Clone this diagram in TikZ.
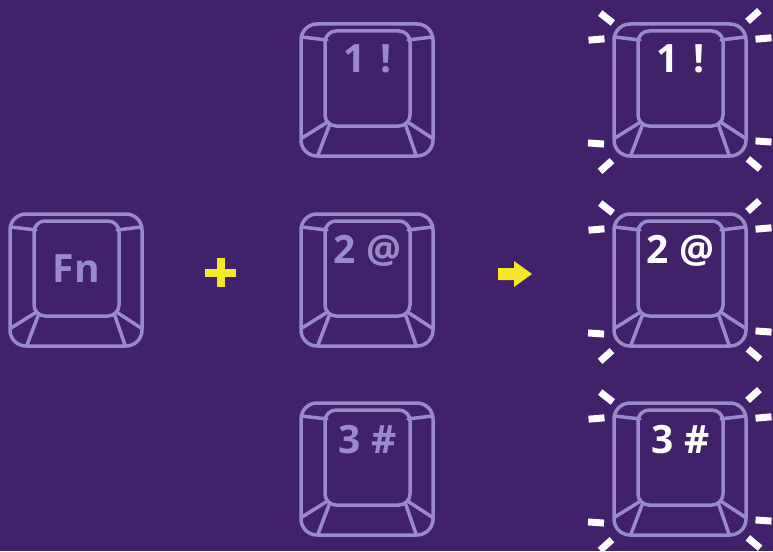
\documentclass[tikz,border=0pt]{standalone}
\usepackage{fontspec}
\setmainfont{Open Sans}
\definecolor{bgc}{HTML}{42216B}
\definecolor{keyc}{HTML}{9A8AC8}
\definecolor{yelc}{HTML}{F4E829}
\tikzset{
  keyline/.style={draw=keyc, line width=3.5pt, line join=round, line cap=round},
  keytext/.style={font=\fontsize{39}{39}\selectfont\bfseries, anchor=base, inner sep=0pt},
  spark/.style={fill=white, draw=none, minimum width=16pt, minimum height=7pt, inner sep=0pt, rectangle},
}
\newcommand\keycap[6]{% name, X, Y, text, colour, baseline
  \begin{scope}[shift={(#2,#3)}]
    \draw[keyline, rounded corners=16pt] (0,0) rectangle (132,132);
    \draw[keyline, rounded corners=11pt] (24,7) rectangle (109,102);
    \draw[keyline] (1,13) -- (26,16);
    \draw[keyline] (131,13) -- (107,16);
    \draw[keyline] (1,114) -- (25,99);
    \draw[keyline] (17,131) -- (28,102);
    \draw[keyline] (131,114) -- (108,99);
    \draw[keyline] (115,131) -- (105,102);
    \node[keytext, text=#5] (#1) at (66.5,#6) {#4};
  \end{scope}}
\newcommand\sparks[3]{% prefix, X, Y
  \begin{scope}[shift={(#2,#3)}]
    \node[spark, rotate=-38] (#1tl) at (-7.5,-6) {};
    \node[spark, rotate=5] (#1l) at (-17.5,15.5) {};
    \node[spark, rotate=42] (#1tr) at (139.5,-8) {};
    \node[spark, rotate=5] (#1r) at (149.5,14.5) {};
    \node[spark, rotate=-4] (#1bl) at (-18,119.5) {};
    \node[spark, rotate=42] (#1bld) at (-8,142) {};
    \node[spark, rotate=-4] (#1br) at (149.5,117.5) {};
    \node[spark, rotate=-40] (#1brd) at (140,140) {};
  \end{scope}}
\begin{document}
\begin{tikzpicture}[x=1pt, y=-1pt]
  \useasboundingbox (0,0) rectangle (773,551);
  \fill[bgc] (0,0) rectangle (773,551);
  % Fn key
  \keycap{fn}{10}{214}{Fn}{keyc}{68}
  % middle column
  \keycap{ma}{301}{24}{1\hspace{14pt}!}{keyc}{48}
  \keycap{mb}{301}{214}{2 @}{keyc}{49}
  \keycap{mc}{301}{403}{3 \#}{keyc}{50}
  % right column
  \keycap{ra}{614}{24}{1\hspace{14pt}!}{white}{48}
  \keycap{rb}{614}{214}{2 @}{white}{49}
  \keycap{rc}{614}{403}{3 \#}{white}{50}
  \sparks{sa}{614}{24}
  \sparks{sb}{614}{214}
  \sparks{sc}{614}{403}
  % plus
  \fill[yelc] (205,269) rectangle (236,277);
  \fill[yelc] (216.5,258) rectangle (224.5,287);
  % arrow
  \fill[yelc] (498,268) -- (514,268) -- (514,261) -- (532,274) -- (514,287) -- (514,280) -- (498,280) -- cycle;
\end{tikzpicture}
\end{document}
